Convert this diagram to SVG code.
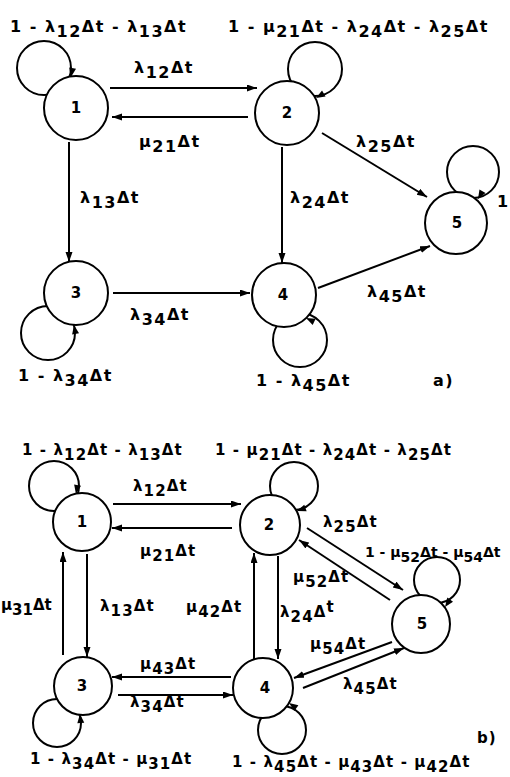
<svg xmlns="http://www.w3.org/2000/svg" xmlns:xlink="http://www.w3.org/1999/xlink" width="510" height="777" viewBox="0 0 510 777">
<defs>
<style>
.t{font-family:"DejaVu Sans","Liberation Sans",Arial,sans-serif;font-size:16px;font-weight:bold;fill:#000;letter-spacing:1.5px}
.u{font-family:"DejaVu Sans","Liberation Sans",Arial,sans-serif;font-size:15px;font-weight:bold;fill:#000;letter-spacing:1.1px}
.n{font-family:"DejaVu Sans","Liberation Sans",Arial,sans-serif;font-size:15px;font-weight:bold;fill:#000;text-anchor:middle}
.node{fill:#fff;stroke:#000;stroke-width:2}
.loop{fill:none;stroke:#000;stroke-width:2}
.e{fill:none;stroke:#000;stroke-width:2;marker-end:url(#arr)}
</style>
<marker id="arr" markerUnits="userSpaceOnUse" markerWidth="11" markerHeight="8" refX="10" refY="3.5" orient="auto">
<path d="M0,0 L10,3.5 L0,7 Z" fill="#000"/>
</marker>
<path id="ah" d="M0,0 L-9,-3.5 L-9,3.5 Z" fill="#000"/>
</defs>
<rect width="510" height="777" fill="#fff"/>

<g id="connectors">
<circle class="loop" cx="44" cy="68" r="27"/>
<circle class="loop" cx="315" cy="69" r="27"/>
<circle class="loop" cx="48" cy="333" r="27"/>
<circle class="loop" cx="300" cy="340" r="27"/>
<circle class="loop" cx="473" cy="172" r="26"/>
<line class="e" x1="110" y1="88" x2="257" y2="88"/>
<line class="e" x1="248" y1="117" x2="112" y2="117"/>
<line class="e" x1="69" y1="142" x2="69" y2="262"/>
<line class="e" x1="282" y1="147" x2="282" y2="263"/>
<line class="e" x1="322" y1="133" x2="427" y2="197"/>
<line class="e" x1="113" y1="293" x2="250" y2="293"/>
<line class="e" x1="318" y1="288" x2="430" y2="246"/>
<circle class="loop" cx="54" cy="486" r="25"/>
<circle class="loop" cx="294" cy="486" r="24"/>
<circle class="loop" cx="57" cy="723" r="24"/>
<circle class="loop" cx="282" cy="730" r="24"/>
<circle class="loop" cx="437" cy="580" r="23"/>
<line class="e" x1="113" y1="504" x2="241" y2="504"/>
<line class="e" x1="232" y1="528" x2="112" y2="528"/>
<line class="e" x1="87" y1="554" x2="87" y2="657"/>
<line class="e" x1="63" y1="655" x2="63" y2="552"/>
<line class="e" x1="278" y1="556" x2="278" y2="659"/>
<line class="e" x1="254" y1="660" x2="254" y2="553"/>
<line class="e" x1="307" y1="528" x2="403" y2="590"/>
<line class="e" x1="390" y1="600" x2="299" y2="540"/>
<line class="e" x1="231" y1="677" x2="112" y2="677"/>
<line class="e" x1="118" y1="695" x2="233" y2="695"/>
<line class="e" x1="392" y1="642" x2="294" y2="678"/>
<line class="e" x1="303" y1="688" x2="404" y2="648"/>
</g>

<g id="node-a1"><circle class="node" cx="76" cy="108" r="32"/><text class="n" x="76" y="113">1</text></g>
<g id="node-a2"><circle class="node" cx="287" cy="113" r="32"/><text class="n" x="287" y="118">2</text></g>
<g id="node-a3"><circle class="node" cx="76" cy="293" r="32"/><text class="n" x="76" y="298">3</text></g>
<g id="node-a4"><circle class="node" cx="284" cy="295" r="32"/><text class="n" x="283" y="300">4</text></g>
<g id="node-a5"><circle class="node" cx="456" cy="223" r="31"/><text class="n" x="457" y="228">5</text></g>

<g id="node-b1"><circle class="node" cx="82" cy="522" r="29"/><text class="n" x="82" y="527">1</text></g>
<g id="node-b2"><circle class="node" cx="270" cy="525" r="30"/><text class="n" x="269" y="530">2</text></g>
<g id="node-b3"><circle class="node" cx="83" cy="686" r="29"/><text class="n" x="82" y="691">3</text></g>
<g id="node-b4"><circle class="node" cx="263" cy="688" r="30"/><text class="n" x="265" y="693">4</text></g>
<g id="node-b5"><circle class="node" cx="421" cy="624" r="29"/><text class="n" x="422" y="629">5</text></g>

<g id="loop-heads">
<use xlink:href="#ah" href="#ah" transform="translate(71,77) rotate(100)"/>
<use xlink:href="#ah" href="#ah" transform="translate(316,98) rotate(150)"/>
<use xlink:href="#ah" href="#ah" transform="translate(74,325) rotate(-100)"/>
<use xlink:href="#ah" href="#ah" transform="translate(306,318) rotate(-155)"/>
<use xlink:href="#ah" href="#ah" transform="translate(478,199) rotate(120)"/>
<use xlink:href="#ah" href="#ah" transform="translate(76,494) rotate(100)"/>
<use xlink:href="#ah" href="#ah" transform="translate(297,511) rotate(160)"/>
<use xlink:href="#ah" href="#ah" transform="translate(445,607) rotate(125)"/>
<use xlink:href="#ah" href="#ah" transform="translate(80,714) rotate(-95)"/>
<use xlink:href="#ah" href="#ah" transform="translate(289,703) rotate(-145)"/>
</g>

<g id="labels">
<text class="t" x="10" y="32">1 - λ<tspan dy="5">12</tspan><tspan dy="-5">Δt - λ</tspan><tspan dy="5">13</tspan><tspan dy="-5">Δt</tspan></text>
<text class="t" x="228" y="32">1 - μ<tspan dy="5">21</tspan><tspan dy="-5">Δt - λ</tspan><tspan dy="5">24</tspan><tspan dy="-5">Δt - λ</tspan><tspan dy="5">25</tspan><tspan dy="-5">Δt</tspan></text>
<text class="t" x="134" y="73">λ<tspan dy="5">12</tspan><tspan dy="-5">Δt</tspan></text>
<text class="t" x="139" y="147">μ<tspan dy="5">21</tspan><tspan dy="-5">Δt</tspan></text>
<text class="t" x="80" y="203">λ<tspan dy="5">13</tspan><tspan dy="-5">Δt</tspan></text>
<text class="t" x="290" y="203">λ<tspan dy="5">24</tspan><tspan dy="-5">Δt</tspan></text>
<text class="t" x="356" y="147">λ<tspan dy="5">25</tspan><tspan dy="-5">Δt</tspan></text>
<text class="t" x="130" y="320">λ<tspan dy="5">34</tspan><tspan dy="-5">Δt</tspan></text>
<text class="t" x="367" y="297">λ<tspan dy="5">45</tspan><tspan dy="-5">Δt</tspan></text>
<text class="t" x="18" y="381">1 - λ<tspan dy="5">34</tspan><tspan dy="-5">Δt</tspan></text>
<text class="t" x="256" y="386">1 - λ<tspan dy="5">45</tspan><tspan dy="-5">Δt</tspan></text>
<text class="t" x="433" y="386">a)</text>
<text class="t" x="497" y="207" style="letter-spacing:0">1</text>
<text class="u" x="22" y="455">1 - λ<tspan dy="5">12</tspan><tspan dy="-5">Δt - λ</tspan><tspan dy="5">13</tspan><tspan dy="-5">Δt</tspan></text>
<text class="u" x="215" y="455">1 - μ<tspan dy="5">21</tspan><tspan dy="-5">Δt - λ</tspan><tspan dy="5">24</tspan><tspan dy="-5">Δt - λ</tspan><tspan dy="5">25</tspan><tspan dy="-5">Δt</tspan></text>
<text class="u" x="133" y="491">λ<tspan dy="5">12</tspan><tspan dy="-5">Δt</tspan></text>
<text class="u" x="140" y="556">μ<tspan dy="5">21</tspan><tspan dy="-5">Δt</tspan></text>
<text class="u" x="323" y="527">λ<tspan dy="5">25</tspan><tspan dy="-5">Δt</tspan></text>
<text class="u" x="365" y="557" style="font-size:14px;letter-spacing:0">1 - μ<tspan dy="5">52</tspan><tspan dy="-5">Δt - μ</tspan><tspan dy="5">54</tspan><tspan dy="-5">Δt</tspan></text>
<text class="u" x="293" y="582">μ<tspan dy="5">52</tspan><tspan dy="-5">Δt</tspan></text>
<text class="u" x="280" y="617">λ<tspan dy="5">24</tspan><tspan dy="-5">Δ</tspan><tspan dy="-5">t</tspan></text>
<text class="u" x="186" y="612">μ<tspan dy="5">42</tspan><tspan dy="-5">Δt</tspan></text>
<text class="u" x="310" y="649">μ<tspan dy="5">54</tspan><tspan dy="-5">Δt</tspan></text>
<text class="u" x="343" y="689">λ<tspan dy="5">45</tspan><tspan dy="-5">Δt</tspan></text>
<text class="u" x="1" y="610" style="letter-spacing:0">μ<tspan dy="5">31</tspan><tspan dy="-5">Δt</tspan></text>
<text class="u" x="100" y="611">λ<tspan dy="5">13</tspan><tspan dy="-5">Δt</tspan></text>
<text class="u" x="140" y="669">μ<tspan dy="5">43</tspan><tspan dy="-5">Δt</tspan></text>
<text class="u" x="130" y="707">λ<tspan dy="5">34</tspan><tspan dy="-5">Δt</tspan></text>
<text class="u" x="30" y="764">1 - λ<tspan dy="5">34</tspan><tspan dy="-5">Δt - μ</tspan><tspan dy="5">31</tspan><tspan dy="-5">Δt</tspan></text>
<text class="u" x="232" y="767">1 - λ<tspan dy="5">45</tspan><tspan dy="-5">Δt - μ</tspan><tspan dy="5">43</tspan><tspan dy="-5">Δt - μ</tspan><tspan dy="5">42</tspan><tspan dy="-5">Δt</tspan></text>
<text class="u" x="477" y="743">b)</text>
</g>
</svg>
